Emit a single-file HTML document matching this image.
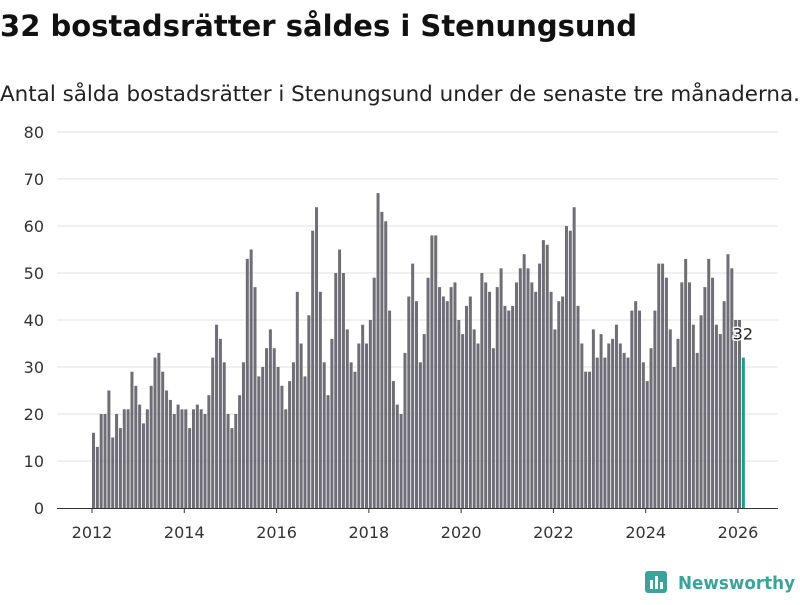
<!DOCTYPE html>
<html><head><meta charset="utf-8"><style>
body{margin:0;background:#fff;width:800px;height:600px;overflow:hidden;font-family:"Liberation Sans","DejaVu Sans",sans-serif}
</style></head><body>
<svg width="800" height="600" xmlns="http://www.w3.org/2000/svg">
<text x="0" y="36" font-size="29" font-weight="bold" fill="#111" font-family="DejaVu Sans, sans-serif" textLength="637" lengthAdjust="spacingAndGlyphs">32 bostadsrätter såldes i Stenungsund</text>
<text x="0" y="101" font-size="21" fill="#222" font-family="DejaVu Sans, sans-serif" textLength="800" lengthAdjust="spacingAndGlyphs">Antal sålda bostadsrätter i Stenungsund under de senaste tre månaderna.</text>
<g id="grid"></g><g id="bars"></g><g id="xaxis"></g>
<g>
<rect x="645" y="571" width="22" height="22" rx="3" fill="#3aa39a"/>
<rect x="650" y="580" width="3" height="9" fill="#fff"/><rect x="655" y="576" width="3" height="13" fill="#fff"/><rect x="660" y="582" width="3" height="7" fill="#fff"/>
<text x="678" y="589" font-size="18" font-weight="bold" fill="#3aa39a" font-family="DejaVu Sans, sans-serif" textLength="117" lengthAdjust="spacingAndGlyphs">Newsworthy</text>
</g>
</svg>
<script>
const years=[2012,2013,2014,2015,2016,2017,2018,2019,2020,2021,2022,2023,2024,2025,2026];
const yTicks=[0,10,20,30,40,50,60,70,80];
const values=[
16,13,20,20,25,15,20,17,21,21,29,26,
22,18,21,26,32,33,29,25,23,20,22,21,
21,17,21,22,21,20,24,32,39,36,31,20,
17,20,24,31,53,55,47,28,30,34,38,34,
30,26,21,27,31,46,35,28,41,59,64,46,
31,24,36,50,55,50,38,31,29,35,39,35,
40,49,67,63,61,42,27,22,20,33,45,52,
44,31,37,49,58,58,47,45,44,47,48,40,
37,43,45,38,35,50,48,46,34,47,51,43,
42,43,48,51,54,51,48,46,52,57,56,46,
38,44,45,60,59,64,43,35,29,29,38,32,
37,32,35,36,39,35,33,32,42,44,42,31,
27,34,42,52,52,49,38,30,36,48,53,48,
39,33,41,47,53,49,39,37,44,54,51,40,
40,32];
const NS="http://www.w3.org/2000/svg";
const y0=508,y80=132,xStart=92,yearW=(738-92)/14;
function yS(v){return y0-(v/80)*(y0-y80);}
function xS(i){return xStart+i*yearW/12;}
function mk(t,a,p){const e=document.createElementNS(NS,t);for(const k in a)e.setAttribute(k,a[k]);p.appendChild(e);return e;}
const grid=document.getElementById('grid');
yTicks.forEach(v=>{
 if(v>0){const l=mk('line',{x1:57,x2:778,y1:yS(v),y2:yS(v),stroke:'#e0e0e0','stroke-width':1},grid);
 
 }
 const t=mk('text',{x:44,y:yS(v)+6,'text-anchor':'end','font-size':16,fill:'#333','font-family':'DejaVu Sans, sans-serif'},grid);
 t.textContent=v;
 
 
});
const bars=document.getElementById('bars');
values.forEach((v,i)=>{
 const last=i===values.length-1;
 const r=mk('rect',{x:xS(i),y:yS(v),width:3,height:y0-yS(v),fill:last?'#1a9c8f':'#6f6e76'},bars);
 
 
 if(last){
  const t=mk('text',{x:xS(i)+1,y:yS(v)-18,'text-anchor':'middle','font-size':16,fill:'#222',stroke:'#fff','stroke-width':3,'paint-order':'stroke','font-family':'DejaVu Sans, sans-serif'},bars);
  t.textContent=v;
  
  
 }
});
const xa=document.getElementById('xaxis');
const ax=mk('line',{x1:57,x2:778,y1:y0+0.5,y2:y0+0.5,stroke:'#333','stroke-width':1},xa);


years.forEach((yr,k)=>{
 if(k%2)return;
 const x=xStart+k*yearW;
 mk('line',{x1:x,x2:x,y1:y0,y2:y0+5,stroke:'#333'},xa);
 const t=mk('text',{x:x,y:538,'text-anchor':'middle','font-size':16,fill:'#333','font-family':'DejaVu Sans, sans-serif'},xa);
 t.textContent=yr;
 
 
});
</script>
</body></html>
